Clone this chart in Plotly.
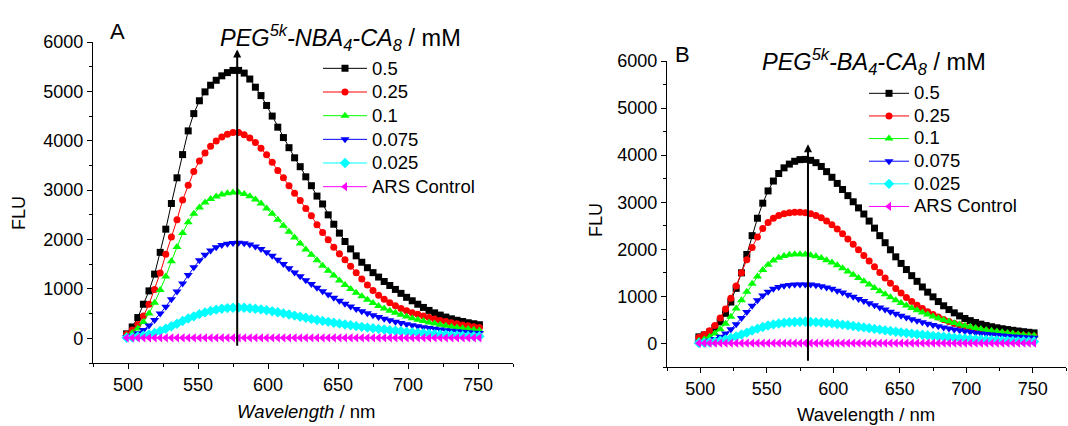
import plotly.graph_objects as go

# wavelengths (nm)
wavelength = list(range(499, 752, 4))

series_names = ["0.5", "0.25", "0.1", "0.075", "0.025", "ARS Control"]
colors = ["#000000", "#FF0000", "#00FF00", "#0000FF", "#00FFFF", "#FF00FF"]
symbols = ["square", "circle", "triangle-up", "triangle-down", "diamond", "triangle-left"]

# Panel A: PEG5k-NBA4-CA8
a_05 = [90, 230, 420, 690, 960, 1300, 1740, 2210, 2730, 3250, 3720, 4200, 4550, 4810, 4990, 5125,
        5225, 5315, 5380, 5425, 5425, 5370, 5250, 5085, 4915, 4715, 4500, 4275, 4065, 3860, 3655, 3475,
        3270, 3090, 2880, 2720, 2500, 2310, 2130, 1960, 1810, 1670, 1540, 1430, 1330, 1240, 1150, 1070,
        990, 910, 830, 760, 690, 625, 565, 515, 470, 430, 395, 365, 340, 315, 295, 275]
a_025 = [80, 170, 280, 450, 690, 990, 1320, 1700, 2050, 2400, 2800, 3100, 3380, 3590, 3750, 3890,
         3995, 4075, 4130, 4165, 4165, 4120, 4055, 3965, 3850, 3715, 3565, 3400, 3250, 3090, 2935, 2790,
         2630, 2480, 2300, 2140, 1995, 1845, 1710, 1590, 1460, 1330, 1200, 1080, 970, 870, 790, 720,
         660, 605, 560, 520, 485, 450, 420, 390, 363, 338, 315, 293, 272, 252, 234, 217]
a_01 = [50, 110, 200, 330, 500, 720, 980, 1250, 1560, 1850, 2130, 2350, 2520, 2650, 2750, 2820,
        2870, 2910, 2935, 2950, 2950, 2920, 2875, 2810, 2730, 2630, 2520, 2400, 2280, 2160, 2040, 1920,
        1800, 1690, 1580, 1470, 1370, 1270, 1170, 1080, 1000, 920, 850, 780, 715, 655, 605, 560,
        515, 475, 440, 405, 375, 348, 322, 298, 276, 255, 236, 218, 202, 187, 173, 160]
a_0075 = [20, 50, 100, 170, 260, 370, 500, 640, 790, 950, 1110, 1280, 1440, 1580, 1690, 1780,
          1845, 1890, 1915, 1930, 1935, 1925, 1900, 1860, 1810, 1745, 1670, 1590, 1505, 1420, 1335, 1255,
          1175, 1100, 1025, 955, 885, 820, 760, 700, 645, 595, 550, 505, 465, 430, 395, 365,
          335, 310, 285, 262, 242, 224, 207, 192, 178, 165, 153, 142, 132, 123, 115, 107]
a_0025 = [10, 20, 35, 55, 80, 110, 150, 195, 245, 295, 350, 400, 445, 490, 525, 555,
          580, 600, 612, 620, 622, 618, 610, 598, 585, 568, 548, 528, 505, 482, 460, 438,
          415, 393, 372, 352, 333, 315, 297, 280, 263, 247, 232, 217, 203, 190, 177, 165,
          153, 142, 131, 121, 111, 102, 93, 85, 78, 71, 65, 59, 54, 49, 45, 41]
a_ctrl = [10] * 64

# Panel B: PEG5k-BA4-CA8
b_05 = [140, 180, 240, 330, 460, 640, 880, 1170, 1500, 1890, 2290, 2660, 2980, 3240, 3450, 3610,
        3730, 3810, 3870, 3905, 3910, 3890, 3840, 3760, 3650, 3530, 3400, 3270, 3140, 3010, 2880, 2750,
        2600, 2450, 2290, 2140, 1990, 1840, 1700, 1570, 1440, 1320, 1200, 1090, 990, 890, 800, 720,
        650, 585, 530, 485, 445, 410, 380, 355, 333, 313, 295, 279, 264, 250, 237, 225]
b_025 = [130, 190, 270, 380, 540, 730, 960, 1220, 1500, 1780, 2040, 2260, 2440, 2570, 2660, 2720,
         2755, 2775, 2785, 2785, 2775, 2755, 2720, 2670, 2600, 2520, 2430, 2330, 2220, 2110, 1990, 1870,
         1750, 1630, 1510, 1390, 1280, 1170, 1070, 975, 890, 810, 740, 675, 615, 560, 510, 465,
         425, 390, 358, 330, 305, 283, 263, 245, 229, 214, 201, 189, 178, 168, 159, 151]
b_01 = [60, 90, 140, 210, 300, 420, 570, 740, 920, 1100, 1270, 1420, 1560, 1670, 1760, 1820,
        1860, 1885, 1895, 1895, 1890, 1875, 1850, 1815, 1770, 1720, 1660, 1600, 1530, 1460, 1390, 1320,
        1250, 1180, 1110, 1045, 980, 920, 860, 805, 755, 705, 660, 615, 575, 535, 500, 465,
        435, 405, 378, 353, 330, 308, 288, 270, 253, 237, 223, 210, 198, 187, 177, 168]
b_0075 = [20, 35, 60, 95, 145, 210, 300, 410, 540, 670, 800, 920, 1020, 1100, 1160, 1200,
          1225, 1240, 1250, 1255, 1255, 1250, 1235, 1215, 1190, 1160, 1120, 1080, 1035, 990, 945, 900,
          855, 810, 765, 720, 675, 630, 590, 550, 515, 480, 448, 418, 390, 364, 340, 318,
          297, 278, 260, 243, 228, 214, 201, 189, 178, 168, 158, 149, 141, 134, 127, 121]
b_0025 = [10, 15, 25, 40, 60, 85, 115, 150, 190, 230, 275, 315, 350, 380, 405, 425,
          440, 450, 457, 460, 460, 458, 453, 446, 437, 426, 414, 400, 386, 371, 356, 341,
          325, 309, 294, 279, 264, 250, 236, 223, 210, 197, 185, 173, 162, 151, 141, 131,
          122, 113, 105, 97, 90, 84, 78, 72, 67, 62, 58, 54, 50, 47, 44, 41]
b_ctrl = [5] * 64

panel_a = [a_05, a_025, a_01, a_0075, a_0025, a_ctrl]
panel_b = [b_05, b_025, b_01, b_0075, b_0025, b_ctrl]

# arrows (wavelength, start, end)
arrow_a = (578, -180, 5850)
arrow_b = (581, -400, 4230)

FONT = "Liberation Sans, Arial, sans-serif"
W, H = 1068, 426

fig = go.Figure()


def legend_label(name, size):
    return f'<span style="font-size:{size}px">{name}</span>'


for i, name in enumerate(series_names):
    fig.add_trace(go.Scatter(
        x=wavelength, y=panel_a[i], name=legend_label(name, 18.5), mode="lines+markers",
        line=dict(color=colors[i], width=1),
        marker=dict(symbol=symbols[i], color=colors[i], size=7 if symbols[i] in ("square", "circle") else 8),
        xaxis="x", yaxis="y", legend="legend"))
for i, name in enumerate(series_names):
    fig.add_trace(go.Scatter(
        x=wavelength, y=panel_b[i], name=legend_label(name, 18.5), mode="lines+markers",
        line=dict(color=colors[i], width=1),
        marker=dict(symbol=symbols[i], color=colors[i], size=7 if symbols[i] in ("square", "circle") else 8),
        xaxis="x2", yaxis="y2", legend="legend2"))

axis_common = dict(
    showline=True, linecolor="black", linewidth=1.3, mirror=False,
    ticks="outside", ticklen=5, tickwidth=1.2, tickcolor="black",
    showgrid=False, zeroline=False,
    tickfont=dict(family=FONT, size=18, color="black"),
)
xcommon = dict(axis_common, range=[475, 775], tick0=500, dtick=50,
               minor=dict(dtick=25, tick0=475, ticklen=3, tickcolor="black", ticks="outside", showgrid=False))
ycommon = dict(axis_common, range=[-500, 6000], tick0=0, dtick=1000,
               minor=dict(dtick=500, tick0=-500, ticklen=3, tickcolor="black", ticks="outside", showgrid=False))


def px_x(p):
    return p / W


def px_y(p):
    return 1 - p / H


fig.update_layout(
    width=W, height=H,
    margin=dict(l=0, r=0, t=0, b=0, autoexpand=False),
    paper_bgcolor="white", plot_bgcolor="white",
    showlegend=True,
    xaxis=dict(xcommon, domain=[px_x(93), px_x(513)], anchor="y"),
    yaxis=dict(ycommon, domain=[px_y(363), px_y(42)], anchor="x"),
    xaxis2=dict(xcommon, domain=[px_x(667), px_x(1066)], anchor="y2"),
    yaxis2=dict(ycommon, domain=[px_y(367), px_y(61)], anchor="x2"),
    legend=dict(x=px_x(318), y=px_y(51.5), xanchor="left", yanchor="top",
                bgcolor="rgba(0,0,0,0)", font=dict(family=FONT, size=15.9, color="black"),
                itemwidth=44, tracegroupgap=0),
    legend2=dict(x=px_x(864), y=px_y(77), xanchor="left", yanchor="top",
                 bgcolor="rgba(0,0,0,0)", font=dict(family=FONT, size=15.1, color="black"),
                 itemwidth=40, tracegroupgap=0),
)

annotations = []
# arrows
for (xr, yr, arr) in (("x", "y", arrow_a), ("x2", "y2", arrow_b)):
    annotations.append(dict(
        x=arr[0], y=arr[2], ax=arr[0], ay=arr[1], xref=xr, yref=yr, axref=xr, ayref=yr,
        showarrow=True, arrowhead=2, arrowsize=0.8, arrowwidth=2, arrowcolor="black", text=""))


def label(text, x, y, size, angle=0):
    return dict(text=text, x=px_x(x), y=px_y(y), xref="paper", yref="paper",
                xanchor="center", yanchor="middle", showarrow=False, textangle=angle,
                font=dict(family=FONT, size=size, color="black"))


annotations += [
    label("A", 117, 31, 22),
    label("B", 682, 55, 22),
    label("<i>PEG<sup>5k</sup>-NBA<sub>4</sub>-CA<sub>8</sub></i> / mM", 340, 38, 23.5),
    label("<i>PEG<sup>5k</sup>-BA<sub>4</sub>-CA<sub>8</sub></i> / mM", 874, 62, 23.5),
    label("FLU", 19, 213, 18, -90),
    label("FLU", 596, 220, 18, -90),
    label("<i>Wavelength</i> / nm", 306, 411, 18.5),
    label("Wavelength / nm", 866, 414, 18.5),
]
fig.update_layout(annotations=annotations)

fig.write_html("out.html")
